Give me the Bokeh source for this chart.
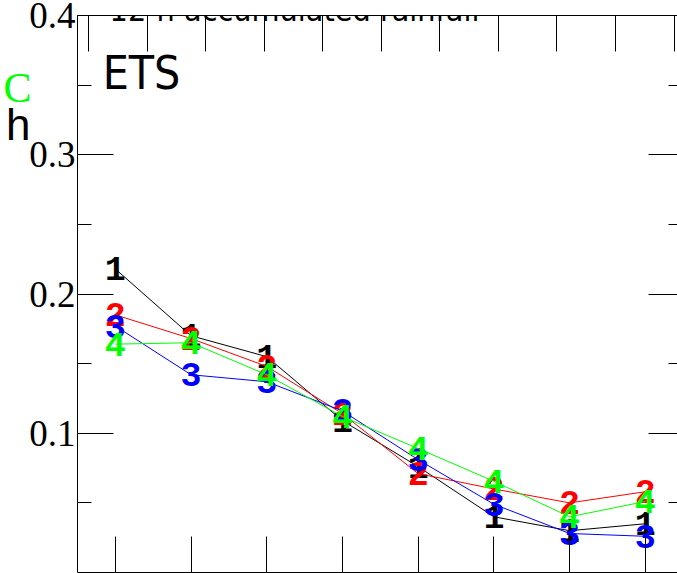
from bokeh.plotting import figure
from bokeh.models import Label, LinearAxis, FixedTicker, Range1d, ColumnDataSource
from bokeh.core.properties import value
from bokeh.embed import file_html
from bokeh.resources import INLINE

# ---- data ----
steps = [1, 2, 3, 4, 5, 6, 7, 8]
ets_1 = [0.218, 0.170, 0.155, 0.109, 0.076, 0.040, 0.030, 0.035]
ets_2 = [0.185, 0.168, 0.148, 0.114, 0.071, 0.060, 0.050, 0.058]
ets_3 = [0.177, 0.142, 0.137, 0.116, 0.081, 0.049, 0.028, 0.026]
ets_4 = [0.164, 0.165, 0.142, 0.112, 0.089, 0.0655, 0.040, 0.051]
series_labels = ["1", "2", "3", "4"]
series_colors = ["#000000", "#ff0000", "#0000ff", "#00ff00"]
y_major = [0.1, 0.2, 0.3, 0.4]
y_minor = [0.05, 0.15, 0.25, 0.35]
top_ticks = [0.648, 1.421, 2.194, 2.967, 3.740, 4.513, 5.286, 6.060, 6.833, 7.606, 8.379]
side_text_c = "C"
side_text_h = "h"

p = figure(width=677, height=573,
           x_range=Range1d(0.5, 8.425), y_range=Range1d(0, 0.4),
           output_backend="svg", toolbar_location=None,
           min_border_left=77, min_border_right=0,
           min_border_top=15, min_border_bottom=1)
p.outline_line_color = None
p.grid.visible = False
p.background_fill_color = "white"
p.border_fill_color = "white"


def silent_labels(ax):
    ax.major_label_text_font_size = "1px"
    ax.major_label_text_color = None
    ax.major_label_standoff = 0


def bare_axis(ax):
    ax.major_tick_in = 0
    ax.major_tick_out = 0
    ax.minor_tick_in = 0
    ax.minor_tick_out = 0
    ax.major_tick_line_color = None
    ax.minor_tick_line_color = None
    ax.axis_line_color = None


# bottom axis
xa = p.xaxis[0]
xa.ticker = FixedTicker(ticks=steps, minor_ticks=[])
xa.major_tick_in = 36
xa.major_tick_out = 0
xa.minor_tick_in = 0
xa.minor_tick_out = 0
silent_labels(xa)
xa.axis_line_color = "black"

# left axis
ya = p.yaxis[0]
ya.ticker = FixedTicker(ticks=y_major, minor_ticks=y_minor)
ya.major_tick_in = 36
ya.major_tick_out = 0
ya.minor_tick_in = 14
ya.minor_tick_out = 0
ya.major_label_standoff = 2
ya.major_label_text_font = "Liberation Serif"
ya.major_label_text_font_size = "37px"
ya.major_label_text_color = "black"
ya.axis_line_color = "black"

# side texts "h" and "C" (cut-off labels at the left edge), carried by bare axes
ha = LinearAxis(ticker=FixedTicker(ticks=[0.322], minor_ticks=[]),
                major_label_overrides={0.322: side_text_h},
                major_label_text_font="Liberation Sans",
                major_label_text_font_size="44px",
                major_label_text_color="black",
                major_label_standoff=-4)
bare_axis(ha)
p.add_layout(ha, "left")

ca = LinearAxis(ticker=FixedTicker(ticks=[0.348], minor_ticks=[]),
                major_label_overrides={0.348: side_text_c},
                major_label_text_font="Liberation Serif",
                major_label_text_font_size="42px",
                major_label_text_color="#00ff00",
                major_label_standoff=-28)
bare_axis(ca)
p.add_layout(ca, "left")

# top axis
ta = LinearAxis(ticker=FixedTicker(ticks=top_ticks, minor_ticks=[]),
                major_tick_in=36, major_tick_out=0,
                minor_tick_in=0, minor_tick_out=0,
                axis_line_color="black")
silent_labels(ta)
p.add_layout(ta, "above")

# right axis (frame edge lies just outside the window)
ra = LinearAxis(ticker=FixedTicker(ticks=y_major, minor_ticks=y_minor),
                major_tick_in=29, major_tick_out=0,
                minor_tick_in=9, minor_tick_out=0,
                axis_line_color=None)
silent_labels(ra)
p.add_layout(ra, "right")

for vals, lab, col in zip([ets_1, ets_2, ets_3, ets_4], series_labels, series_colors):
    src = ColumnDataSource(dict(x=steps, y=vals, t=[lab] * len(steps)))
    p.line("x", "y", source=src, line_color=col, line_width=1)
    p.text("x", "y", text="t", source=src, text_color=col,
           text_font=value("Liberation Mono"), text_font_style="bold",
           text_font_size="35px", text_align="center", text_baseline="middle")

p.add_layout(Label(x=1.345, y=0.359, text="ETS", text_font="DejaVu Sans Condensed",
                   text_font_size="46px", text_color="black",
                   text_align="center", text_baseline="middle"))
p.add_layout(Label(x=3.366, y=0.4036, text="12-h accumulated rainfall",
                   text_font="DejaVu Sans Condensed", text_font_size="32px",
                   text_color="black", text_align="center", text_baseline="alphabetic"))

open("out.html", "w").write(file_html(p, INLINE))
